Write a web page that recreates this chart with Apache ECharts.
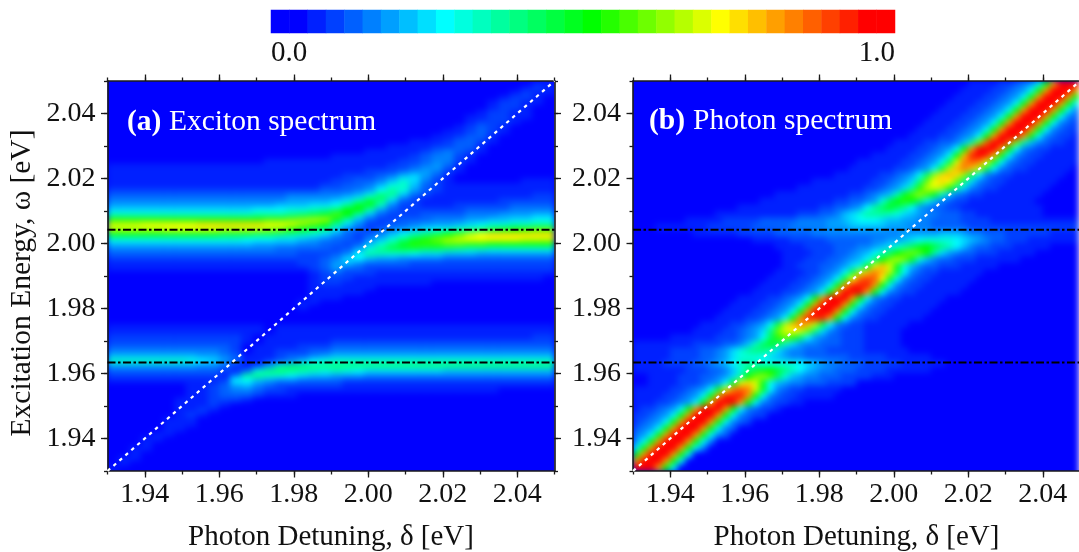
<!DOCTYPE html>
<html>
<head>
<meta charset="utf-8">
<style>html,body{margin:0;padding:0;background:#fff}#c{width:1079px;height:552px;overflow:hidden}</style>
<script src="https://cdn.jsdelivr.net/npm/echarts@6/dist/echarts.min.js"></script>
</head>
<body>
<div id="c"></div>
<script>
// Colour levels of the colour bar (level 0 .. 31)
const levelColors = ['#0000ff','#0020ff','#0040ff','#0060ff','#0080ff','#009fff','#00bfff','#00dfff','#00ffff',
 '#00ffdf','#00ffbf','#00ff9f','#00ff80','#00ff60','#00ff40','#00ff20','#00ff00',
 '#24ff00','#49ff00','#6dff00','#92ff00','#b6ff00','#dbff00','#ffff00',
 '#ffdf00','#ffbf00','#ff9f00','#ff8000','#ff6000','#ff4000','#ff2000','#ff0000'];
const barLevels = [0,0,1,2,3,4,5,6,7,8,9,10,11,12,13,14,15,16,17,18,19,20,21,22,23,24,25,26,27,28,29,30,31,31];
const majorTicks = [1.94,1.96,1.98,2.00,2.02,2.04];
const excitonLevels = [2.0042,1.9634];
const diagonal = [1.93,2.05];

// Panel (a): one row per 0.0015 eV from the top, 40 columns of 0.003 eV. [first column, levels in base 32]
const excitonRows = [
[38,"11"],[37,"121"],[36,"1211"],[35,"1221"],[34,"12211"],[34,"1221"],[33,"12211"],[32,"112211"],[32,"12221"],[31,"12321"],
[30,"112321"],[29,"112331"],[27,"11123321"],[25,"111122331"],[23,"11111234321"],[20,"1111111234421"],
[14,"1111111111112234421"],
[0,"11111111111111111111111112234531"],
[0,"11111111111111111111111222345421"],
[0,"1111111111111111111112223467531"],
[0,"1111111111111111111122334697421000000111"],
[0,"11111111111111111112233469a6321111111111"],
[0,"22222222222222222223"+"33458b9532"+"1111111111"],
[0,"33333333333333334444"+"4569db6321"+"1111111122"],
[0,"44444444444444445555"+"67aec73211"+"1111122222"],
[0,"55555555555555566677"+"8bffa42211"+"1222223333"],
[0,"777777777777788899ab"+"dgga532222"+"2233334444"],
[0,"aaaaaaaaaaaaabbbcdef"+"iga6322233"+"3344455566"],
[0,"hhhhhhhhhhhhhhiijkll"+"fa63223334"+"4455667788"],
[0,"mmmnnnnnoooooonnmkig"+"b742233455"+"567899aabb"],
[0,"lllllmmmmmllllkjhfdb"+"7432345678"+"9abcefghii"],
[0,"ffffffffffeeeddcba97"+"5323468ace"+"gilnoooooo"],
[0,"99999999999988877654"+"332469cfhj"+"lmnnnnnmmm"],
[0,"66666666666665555443"+"32369cfhhh"+"iihhgggggg"],
[0,"44444444444444433333"+"2359ceeedd"+"cbaa999999"],
[0,"33333333333333333222"+"348ba99877"+"6665555555"],
[0,"22222222222222222223"+"4786554444"+"3333333333"],
[0,"11111111111111111223"+"5643333222"+"2222222222"],
[0,"11111111111111111123"+"5332222222"+"2222222222"],
[18,"12"+"3222111111"+"1111111111"],
[18,"12"+"2211111111"+"111111111"],
[18,"12"+"211111111"],
[18,"111111"],[18,"11111"],[18,"111"],[17,"11"],[17,"1"],
[0,""],[0,""],[0,""],
[0,"11111111111111011111"+"11111111111111111111"],
[0,"11111111111111011111"+"11111111111111111111"],
[0,"22222222222210111111"+"11111111111111111122"],
[0,"22222222222210111111"+"22222222222222222222"],
[0,"33333333333201111222"+"33333333333333333333"],
[0,"44444444443201122233"+"44444444444444444444"],
[0,"66666666554311123345"+"66666666666666666666"],
[0,"aaaaaaa9875311234689"+"aaaaaaaaaaaaaaaaaaaa"],
[0,"555555554432125acccc"+"cccccccccccccccccccc"],
[0,"33333333332139cdcba9"+"a987777777"+"6666666666"],
[0,"222222222214bca98766"+"5554444444"+"4444444444"],
[0,"11111111112886544333"+"3222222222"+"2222222222"],
[7,"112"+"3564322222"+"2111111111"+"1111111111"],
[7,"112"+"3443221111"+"1111111111"+"11111"],
[7,"1123332111"],[6,"1112221"],[6,"11121"],[6,"1121"],[6,"121"],[5,"111"],[5,"111"],[5,"11"],
[4,"11"],[3,"11"],[3,"1"],[2,"11"],[2,"1"],[1,"11"],[1,"1"],[0,"1"]
];

// Panel (b): one row per 0.002 eV from the top, 60 columns of 0.002 eV. [first column, levels in base 32]
const photonRows = [
[45,"1111223458gqvvv"],[44,"1111223458gqvvvq"],[43,"1111223458gqvvvqg"],[42,"1111223458gqvvvqg8"],
[41,"1111223458gqvvvqg84"],[40,"1111223458gqvvvqg843"],[39,"1111223458gqvvvqg8432"],[38,"1111223458gqvvvqg84322"],
[37,"1111223458gqvvvqg843221"],
[35,"1111"+"22"+"33"+"46bjsv"+"vsjb6432"+"211"],
[34,"1111223458gqvvvqg843221111"],
[32,"11111223458gpuvupg8432211111"],
[30,"111111223458emrsrmf84322111111"],
[29,"111111223458elprple84322111111"],
[27,"111111223458dkopokd843221111111"],
[24,"11111111223457cjnonjc743221111111"],
[22,"111111111223457bhlmlhb743221111111"],
[19,"1111111111223456afikifa6432211111111"],
[17,"11111111112233459dgh"+"gd9643221111111110"],
[14,"111111111112233458bdf"+"db8543322111111111"+"11"],
[11,"11111111111222334679b"+"bba97654433322"+"111111111"],
[7,"11111"+"22222"+"33333"+"4444"+"55"+"67"+"8887"+"66554"+"433332"+"222111111"+"111111"],
[3,"1111111"+"222222"+"33333"+"44444"+"555"+"66666"+"55544"+"433333"+"22222222"+"2222222"],
[8,"111111"+"22222"+"33333"+"444444"+"444444555"+"556665"+"443332"+"222221111"],
[16,"11111"+"22222"+"3333"+"3344"+"5567"+"8999987"+"654332"+"221111111"],
[19,"1111"+"2222"+"333"+"445"+"679b"+"dfgec"+"a8643"+"3222"+"11111"],
[20,"1111"+"222"+"334"+"568"+"adgi"+"jig"+"b75433"+"22211"+"111"],
[20,"111"+"222"+"334"+"568"+"cgj"+"l"+"jf9"+"643322"+"21111"+"11"],
[20,"11"+"222"+"334"+"579"+"fm"+"p"+"mf"+"964"+"332221"+"1111"],
[19,"1111223458elpr"+"ple84322111111"],
[18,"1111223458fnst"+"snf84322111111"],
[17,"1111223458gquu"+"uqg84322111111"],
[16,"1111223458gqvv"+"vqg84322111111"],
[14,"1111223458gqvv"+"vqg84322111111"],
[13,"1111223458gqvv"+"vqg84322111111"],
[12,"1111223458gqvv"+"vqg84322111111"],
[11,"1111223458gquu"+"uqg84322111111"],
[9,"1111223458elpr"+"ple84322111111"],
[8,"1111223457cjmn"+"mjc743222"+"11111"],
[5,"11"+"11112223458dhj"+"hd85433222"+"11111"],
[0,"11111"+"11122223346adf"+"da7544333222"+"11111"],
[0,"11111"+"2222"+"334"+"579"+"bcc"+"a75"+"4433"+"32222"+"2111"+"111"],
[0,"111112222"+"33457"+"99987"+"654433"+"33332"+"222211"+"1111"],
[0,"111122"+"22334"+"568a"+"ba999"+"99876"+"54433"+"322222"+"111111"],
[0,"1111111"+"2223"+"3469"+"cefge"+"ca865"+"44333"+"22221"+"11111"],
[2,"111"+"122"+"233"+"457"+"bgj"+"k"+"id9"+"6544"+"33322"+"22111"],
[2,"111"+"1222"+"34"+"58f"+"m"+"o"+"mf8"+"6544"+"333222"+"2"],
[0,"1"+"1111223458fmrs"+"rmf8432211111"],
[0,"1111223458gquu"+"uqg8432211111"],
[0,"111223458gqvv"+"vqg8432211"],
[0,"1223458gqvv"+"vqg843221"],
[0,"223458gqvv"+"vqg84322"],
[0,"23458gqvv"+"vqg8432"],
[0,"3458gqvv"+"vqg843"],
[0,"458gqvv"+"vqg843"],
[0,"58gqvv"+"vqg84"],
[0,"8gqvv"+"vqg84"],
[0,"gqvv"+"vqg8"],
[0,"qvv"+"vqg8"],
[0,"vv"+"vqg8"]
];

function toCells(rows, nCols){
  const out=[], n=rows.length;
  rows.forEach(function(r,i){
    for(let k=0;k<nCols;k++){
      const ch=r[1][k-r[0]];
      const lv=(k>=r[0]&&ch!==undefined)?parseInt(ch,32):0;
      out.push([k,n-1-i,lv]);
    }
  });
  return out;
}
function seq(n){return Array.from({length:n},function(_,i){return i;});}

const font='"Liberation Serif","Times New Roman",serif';
const lineCol='#1a1a1a';
const xAxes=[],yAxes=[];
function catAxis(g,n){return {type:'category',gridIndex:g,data:seq(n),show:false};}
function valAxis(g,pos,major,labels,margin){
  const a={type:'value',gridIndex:g,position:pos,zlevel:1,min:1.93,max:2.05,splitLine:{show:false},
    axisLine:{show:major,onZero:false,lineStyle:{color:lineCol,width:1.6}},
    axisTick:{show:true,length:major?6.5:3.5,lineStyle:{color:lineCol,width:1.3}},
    axisLabel:{show:labels,fontFamily:font,fontSize:28,color:'#111',margin:margin||0,hideOverlap:false,
      formatter:function(v){return v.toFixed(2);}}};
  if(major){a.axisTick.customValues=majorTicks;a.axisLabel.customValues=majorTicks;}
  else{a.interval=0.01;}
  return a;
}
const bx=[],by=[];
[[40,80],[60,60]].forEach(function(d,g){
  bx[g]=xAxes.length;by[g]=yAxes.length;
  const bottom=valAxis(g,'bottom',true,true,10);
  bottom.name='Photon Detuning, δ [eV]';bottom.nameLocation='middle';bottom.nameGap=52;
  bottom.nameTextStyle={fontFamily:font,fontSize:29,color:'#111'};
  xAxes.push(catAxis(g,d[0]),bottom,
    valAxis(g,'bottom',false,false),valAxis(g,'top',true,false),valAxis(g,'top',false,false));
  yAxes.push(catAxis(g,d[1]),valAxis(g,'left',true,true,12),
    valAxis(g,'left',false,false),valAxis(g,'right',true,false),valAxis(g,'right',false,false));
});
const barX=xAxes.length,barY=yAxes.length;
xAxes.push({type:'category',gridIndex:2,data:seq(barLevels.length),show:false});
yAxes.push({type:'category',gridIndex:2,data:[0],show:false});

function heat(g,cells){
  return {type:'heatmap',xAxisIndex:bx[g],yAxisIndex:by[g],data:cells,progressive:0,silent:true,zlevel:0,
    itemStyle:{borderWidth:0},emphasis:{disabled:true}};
}
function line(g,pts,style){
  return {type:'line',xAxisIndex:bx[g]+1,yAxisIndex:by[g]+1,data:pts,showSymbol:false,symbol:'none',silent:true,zlevel:1,z:5,
    lineStyle:style,clip:true};
}
const dashDot={color:'#000',width:2,type:[8,2.5,2.5,2.5]};
const dotted={color:'#fff',width:2.2,type:[3.5,4.4]};
const series=[
  heat(0,toCells(excitonRows,40)),
  heat(1,toCells(photonRows,60)),
  {type:'heatmap',xAxisIndex:barX,yAxisIndex:barY,data:barLevels.map(function(v,i){return [i,0,v];}),progressive:0,silent:true,zlevel:1,itemStyle:{borderWidth:0}}
];
[0,1].forEach(function(g){
  excitonLevels.forEach(function(w){series.push(line(g,[[diagonal[0],w],[diagonal[1],w]],dashDot));});
  series.push(line(g,[[diagonal[0],diagonal[0]],[diagonal[1],diagonal[1]]],dotted));
});
function txt(pos,s,f){return Object.assign({type:'text',zlevel:1,z:20,silent:true,style:Object.assign({font:f},s)},pos);}

const chart=echarts.init(document.getElementById('c'),null,{renderer:'canvas'});
chart.setOption({
  animation:false,
  backgroundColor:'#0000ff',
  grid:[
    {left:107.5,top:81,width:447,height:390,outerBoundsMode:'none'},
    {left:633,top:81,width:447,height:390,outerBoundsMode:'none'},
    {left:271,top:10,width:624,height:23,outerBoundsMode:'none'}
  ],
  xAxis:xAxes,yAxis:yAxes,
  visualMap:{show:false,type:'continuous',seriesIndex:[0,1,2],dimension:2,min:0,max:31,inRange:{color:levelColors}},
  series:series,
  graphic:[
    txt({left:271,top:39},{text:'0.0',fill:'#111'},'29px '+font),
    txt({right:184,top:39},{text:'1.0',fill:'#111'},'29px '+font),
    txt({left:127,top:107},{text:'(a)',fill:'#fff'},'bold 29.5px '+font),
    txt({left:169,top:107},{text:'Exciton spectrum',fill:'#fff'},'29.5px '+font),
    txt({left:649,top:106},{text:'(b)',fill:'#fff'},'bold 29.5px '+font),
    txt({left:693,top:106},{text:'Photon spectrum',fill:'#fff'},'29.5px '+font),
    {type:'text',zlevel:1,silent:true,x:22,y:283,rotation:Math.PI/2,
      style:{text:'Excitation Energy, ω [eV]',font:'29.5px '+font,fill:'#111',align:'center',verticalAlign:'middle'}}
  ]
});
// Soften the cell edges of the heatmap layer only; the cells stay library-drawn from the arrays above.
function soften(){
  const cv=document.querySelector('#c canvas[data-zr-dom-id="zr_0"]');
  if(cv){
    cv.style.filter='blur(3px)';
    cv.style.clipPath="path('M107.5 81H554.5V471H107.5Z M633 81H1080V471H633Z')";
  }
}
soften();
chart.on('finished',soften);
</script>
</body>
</html>
